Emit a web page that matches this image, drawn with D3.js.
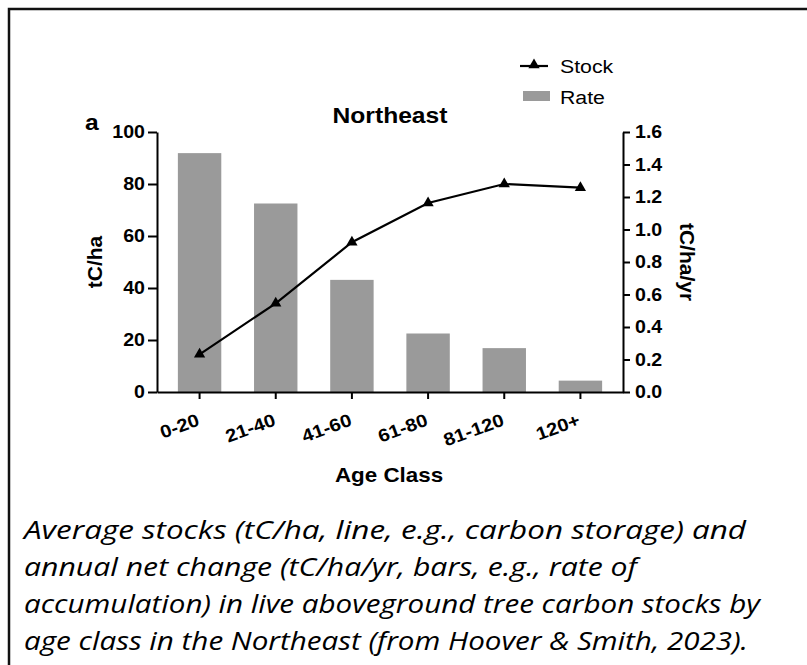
<!DOCTYPE html>
<html>
<head>
<meta charset="utf-8">
<script src="https://cdn.jsdelivr.net/npm/d3@7"></script>
<style>
  body { margin: 0; background: #fff; }
  svg { display: block; }
  .chart text { font-family: "Liberation Sans", Arial, sans-serif; fill: #000; }
  .caption { font-family: "Open Sans", sans-serif; font-style: italic; font-size: 26px; fill: #000; }
</style>
</head>
<body>
<svg width="807" height="665"></svg>
<script>
const ageClasses = ["0-20", "21-40", "41-60", "61-80", "81-120", "120+"]
const stock = [14.5, 34.1, 57.6, 72.7, 80.0, 78.6]     // tC/ha, line, left axis
const rate = [1.47, 1.16, 0.69, 0.36, 0.27, 0.07]      // tC/ha/yr, bars, right axis
const stockTicks = [0, 20, 40, 60, 80, 100]
const rateTicks = [0, 0.2, 0.4, 0.6, 0.8, 1.0, 1.2, 1.4, 1.6]
const captionLines = [
    "Average stocks (tC/ha, line, e.g., carbon storage) and",
    "annual net change (tC/ha/yr, bars, e.g., rate of",
    "accumulation) in live aboveground tree carbon stocks by",
    "age class in the Northeast (from Hoover & Smith, 2023)."
]

// the source picture is a bit wider than tall, so text gets a horizontal stretch
const sx = 1.12
// caption set in Calibri in the source; line lengths fitted to it
const captionLeft = 24
const captionWidths = [722, 613, 736, 724]

// move a text's x into a transform so it can be stretched around its anchor
function stretch(sel, extra) {
    sel.each(function () {
        const t = d3.select(this)
        const x = +t.attr("x") || 0
        t.attr("x", 0).attr("transform", `translate(${x},0) ${extra || ""} scale(${sx},1)`)
    })
}

function drawChart() {
    const svg = d3.select("svg")
    const left = 157, right = 623, top = 132, bottom = 392

    // frame (only top and left edge are inside the picture)
    svg.append("rect")
        .attr("x", 9).attr("y", 9)
        .attr("width", 1000).attr("height", 1000)
        .attr("fill", "none")
        .attr("stroke", "#111")
        .attr("stroke-width", 2.5)

    const g = svg.append("g").attr("class", "chart")

    const x = d3.scaleBand()
        .domain(ageClasses)
        .range([left, right])
        .paddingInner(0.43)
        .paddingOuter(0.274)
    const yStock = d3.scaleLinear().domain([0, 100]).range([bottom, top])
    const yRate = d3.scaleLinear().domain([0, 1.6]).range([bottom, top])

    // bars
    g.append("g").selectAll("rect")
        .data(rate)
        .enter()
        .append("rect")
        .attr("x", (d, i) => x(ageClasses[i]))
        .attr("width", x.bandwidth())
        .attr("y", d => yRate(d))
        .attr("height", d => bottom - yRate(d))
        .attr("fill", "#9a9a9a")

    // axes
    const leftAxis = g.append("g")
        .attr("transform", `translate(${left},0)`)
        .call(d3.axisLeft(yStock).tickValues(stockTicks).tickSize(9).tickSizeOuter(0).tickPadding(3))
    const rightAxis = g.append("g")
        .attr("transform", `translate(${right},0)`)
        .call(d3.axisRight(yRate).tickValues(rateTicks).tickSize(7).tickSizeOuter(0).tickPadding(5)
            .tickFormat(d3.format(".1f")))
    const bottomAxis = g.append("g")
        .attr("transform", `translate(0,${bottom})`)
        .call(d3.axisBottom(x).tickSize(7).tickSizeOuter(0))

    ;[leftAxis, rightAxis, bottomAxis].forEach(a => {
        a.selectAll("path, line").attr("stroke", "#000").attr("stroke-width", 2)
        a.selectAll("text").attr("font-family", "Liberation Sans, Arial, sans-serif")
            .attr("font-weight", "bold").attr("font-size", 17.5).attr("fill", "#000")
    })
    stretch(leftAxis.selectAll("text"))
    stretch(rightAxis.selectAll("text"))
    bottomAxis.selectAll("text")
        .attr("x", 0).attr("y", 0).attr("dy", 0)
        .attr("font-size", 18)
        .attr("transform", `translate(1,33) rotate(-20) scale(${sx},1)`)
        .style("text-anchor", "end")

    // stock line
    const line = d3.line()
        .x((d, i) => x(ageClasses[i]) + x.bandwidth() / 2)
        .y(d => yStock(d))
    g.append("path")
        .datum(stock)
        .attr("d", line)
        .attr("fill", "none")
        .attr("stroke", "#000")
        .attr("stroke-width", 2.2)

    const tri = d3.symbol().type(d3.symbolTriangle).size(55)
    g.append("g").selectAll("path")
        .data(stock)
        .enter()
        .append("path")
        .attr("d", tri)
        .attr("transform", (d, i) => `translate(${x(ageClasses[i]) + x.bandwidth() / 2},${yStock(d)})`)
        .attr("fill", "#000")

    // titles
    g.append("text").attr("x", 390).attr("y", 123)
        .attr("text-anchor", "middle").attr("font-weight", "bold").attr("font-size", 22)
        .text("Northeast")
        .call(stretch)
    g.append("text").attr("x", 85).attr("y", 130)
        .attr("font-weight", "bold").attr("font-size", 22)
        .text("a")
        .call(stretch)
    g.append("text").attr("x", 389).attr("y", 482)
        .attr("text-anchor", "middle").attr("font-weight", "bold").attr("font-size", 20)
        .text("Age Class")
        .call(stretch)
    g.append("text")
        .attr("transform", "translate(102,262) rotate(-90)")
        .attr("text-anchor", "middle").attr("font-weight", "bold").attr("font-size", 21)
        .text("tC/ha")
    g.append("text")
        .attr("transform", "translate(680,262) rotate(90)")
        .attr("text-anchor", "middle").attr("font-weight", "bold").attr("font-size", 21)
        .text("tC/ha/yr")

    // legend
    const lg = g.append("g")
    lg.append("line").attr("x1", 520).attr("x2", 548).attr("y1", 66).attr("y2", 66)
        .attr("stroke", "#000").attr("stroke-width", 2.2)
    lg.append("path").attr("d", tri).attr("transform", "translate(534,65)").attr("fill", "#000")
    lg.append("text").attr("x", 560).attr("y", 73).attr("font-size", 19).text("Stock").call(stretch)
    lg.append("rect").attr("x", 523).attr("y", 91).attr("width", 27).attr("height", 10).attr("fill", "#9a9a9a")
    lg.append("text").attr("x", 560).attr("y", 104).attr("font-size", 19).text("Rate").call(stretch)

    // caption
    svg.append("g").selectAll("text")
        .data(captionLines)
        .enter()
        .append("text")
        .attr("class", "caption")
        .attr("x", captionLeft)
        .attr("y", (d, i) => 539 + i * 37)
        .attr("textLength", (d, i) => captionWidths[i])
        .attr("lengthAdjust", "spacingAndGlyphs")
        .text(d => d)
}
drawChart()
</script>
</body>
</html>
